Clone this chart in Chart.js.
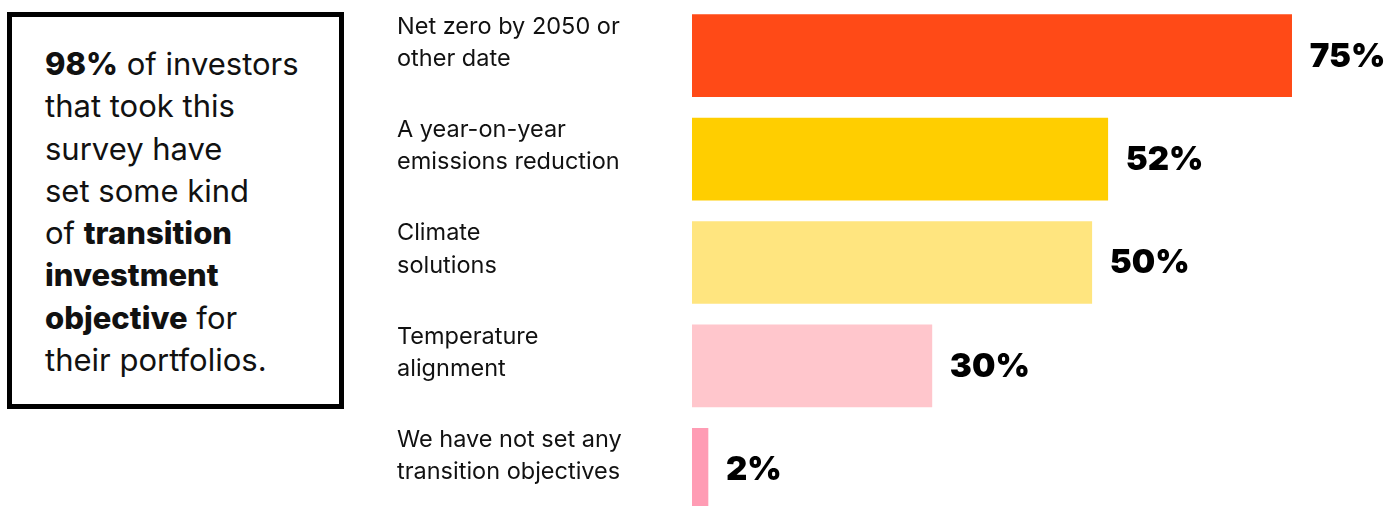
<!DOCTYPE html>
<html>
<head>
<meta charset="utf-8">
<script src="https://cdn.jsdelivr.net/npm/chart.js@4"></script>
<style>
  html, body { margin: 0; padding: 0; background: #fff; overflow: hidden; }
  body { width: 1398px; height: 506px; position: relative; }
  #box {
    position: absolute; left: 7px; top: 12px;
    width: 337px; height: 397px; box-sizing: border-box;
    border: 5px solid #000;
    padding: 26px 0 0 33px;
    font-family: Inter, "Noto Sans", sans-serif;
    font-size: 31px; line-height: 42.3px; color: #111;
    white-space: nowrap;
  }
  #box b { font-weight: 800; }
  #wrap { position: absolute; left: 0; top: 0; width: 1398px; height: 521px; }
</style>
</head>
<body>
<div id="box">
  <b>98%</b> of investors<br>
  that took this<br>
  survey have<br>
  set some kind<br>
  of <b>transition</b><br>
  <b>investment</b><br>
  <b>objective</b> for<br>
  their portfolios.
</div>
<div id="wrap"><canvas id="myBarChart"></canvas></div>
<script>
// ------------------ data -------------------
var categories = [
  ['Net zero by 2050 or', 'other date'],
  ['A year-on-year', 'emissions reduction'],
  ['Climate', 'solutions'],
  ['Temperature', 'alignment'],
  ['We have not set any', 'transition objectives']
];
var values = [75, 52, 50, 30, 2];
var valueLabels = ['75%', '52%', '50%', '30%', '2%'];
var barColors = ['#ff4a17', '#ffce00', '#ffe57f', '#ffc6cc', '#ff9cb4'];

// ghi % ở cuối mỗi thanh
var valueLabelPlugin = {
  id: 'valueLabels',
  afterDatasetsDraw: function (chart) {
    var ctx = chart.ctx;
    var meta = chart.getDatasetMeta(0);
    ctx.save();
    ctx.font = '900 33px Inter, "Noto Sans", sans-serif';
    ctx.fillStyle = '#000';
    ctx.textAlign = 'left';
    ctx.textBaseline = 'middle';
    meta.data.forEach(function (bar, i) {
      ctx.fillText(valueLabels[i], bar.x + 18, bar.y + 1);
    });
    ctx.restore();
  }
};

var barCtx = document.getElementById('myBarChart').getContext('2d');
var myBarChart = new Chart(barCtx, {
  type: 'bar',
  data: {
    labels: categories,
    datasets: [{
      data: values,
      backgroundColor: barColors,
      borderWidth: 0,
      barThickness: 82
    }]
  },
  options: {
    indexAxis: 'y',
    responsive: true,
    maintainAspectRatio: false,
    animation: false,
    layout: { padding: { left: 397, top: 4, right: 0, bottom: 0 } },
    scales: {
      x: {
        display: false,
        min: 0,
        max: 88.3
      },
      y: {
        grid: { display: false, drawTicks: false },
        border: { display: false },
        afterFit: function (scale) {
          scale.width = 295;
          // bỏ phần đệm trên/dưới do nhãn 2 dòng
          scale.paddingTop = 0;
          scale.paddingBottom = 0;
        },
        ticks: {
          crossAlign: 'far',
          padding: 0,
          labelOffset: -13,
          color: '#111',
          font: { family: 'Inter, "Noto Sans", sans-serif', size: 23.5, lineHeight: 1.37 }
        }
      }
    },
    plugins: {
      legend: { display: false },
      tooltip: { enabled: false }
    }
  },
  plugins: [valueLabelPlugin]
});
</script>
</body>
</html>
